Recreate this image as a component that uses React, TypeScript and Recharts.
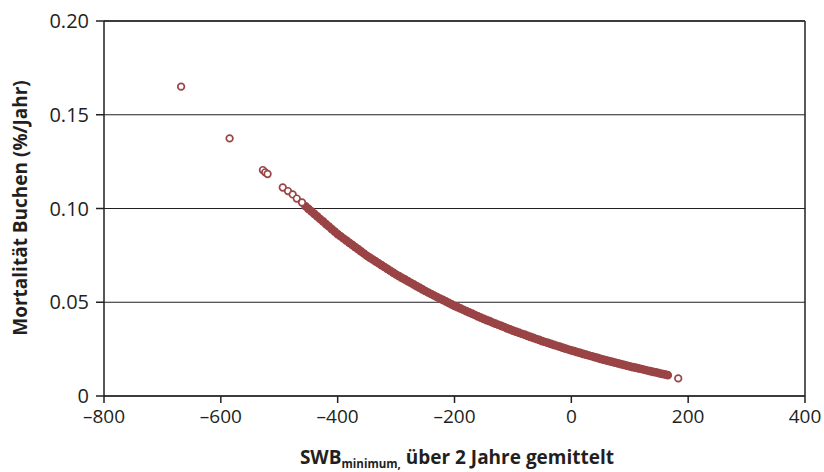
import { ScatterChart, Scatter, XAxis, YAxis, CartesianGrid, ReferenceLine } from 'recharts';

// Buchen-Mortalität vs. SWB minimum (2-year mean).

const xTicks = [-800, -600, -400, -200, 0, 200, 400];
const yTicks = [0, 0.05, 0.1, 0.15, 0.2];

// isolated hollow circles
const sparsePairs: [number, number][] = [
  [-668, 0.165], [-585, 0.1374], [-528, 0.1205], [-524, 0.1193], [-520, 0.1184],
  [-494, 0.1112], [-485, 0.1093], [-477, 0.1075], [-470, 0.1053], [-461, 0.1032],
  [183, 0.0094],
];

// the dense band (overlapping circles read along its centre)
const densePairs: [number, number][] = [
  [-455, 0.1012], [-450, 0.0998], [-445, 0.0985], [-440, 0.0971], [-435, 0.0958], [-430, 0.0944],
  [-425, 0.0931], [-420, 0.0917], [-415, 0.0904], [-410, 0.089], [-405, 0.0877], [-400, 0.0863],
  [-395, 0.0852], [-390, 0.084], [-385, 0.0829], [-380, 0.0817], [-375, 0.0806], [-370, 0.0794],
  [-365, 0.0783], [-360, 0.0771], [-355, 0.076], [-350, 0.0748],
  [-345, 0.0738], [-340, 0.0728], [-335, 0.0718], [-330, 0.0708], [-325, 0.0698], [-320, 0.0688],
  [-315, 0.0678], [-310, 0.0668], [-305, 0.0658], [-300, 0.0648],
  [-295, 0.0639], [-290, 0.063], [-285, 0.0622], [-280, 0.0613], [-275, 0.0604], [-270, 0.0595],
  [-265, 0.0586], [-260, 0.0578], [-255, 0.0569], [-250, 0.056],
  [-245, 0.0552], [-240, 0.0544], [-235, 0.0536], [-230, 0.0528], [-225, 0.052], [-220, 0.0513],
  [-215, 0.0505], [-210, 0.0497], [-205, 0.0489], [-200, 0.0481],
  [-195, 0.0474], [-190, 0.0467], [-185, 0.046], [-180, 0.0453], [-175, 0.0446], [-170, 0.0439],
  [-165, 0.0432], [-160, 0.0425], [-155, 0.0418], [-150, 0.0411],
  [-145, 0.0405], [-140, 0.0399], [-135, 0.0392], [-130, 0.0386], [-125, 0.038], [-120, 0.0374],
  [-115, 0.0368], [-110, 0.0361], [-105, 0.0355], [-100, 0.0349],
  [-95, 0.0343], [-90, 0.0338], [-85, 0.0332], [-80, 0.0327], [-75, 0.0321], [-70, 0.0315],
  [-65, 0.031], [-60, 0.0304], [-55, 0.0299], [-50, 0.0293],
  [-45, 0.0288], [-40, 0.0283], [-35, 0.0278], [-30, 0.0273], [-25, 0.0268], [-20, 0.0263],
  [-15, 0.0258], [-10, 0.0253], [-5, 0.0248], [0, 0.0243],
  [5, 0.0239], [10, 0.0234], [15, 0.023], [20, 0.0225], [25, 0.0221], [30, 0.0216],
  [35, 0.0212], [40, 0.0207], [45, 0.0203], [50, 0.0198],
  [55, 0.0194], [60, 0.019], [65, 0.0186], [70, 0.0182], [75, 0.0178], [80, 0.0174],
  [85, 0.017], [90, 0.0166], [95, 0.0162], [100, 0.0158],
  [105, 0.0154], [110, 0.0151], [115, 0.0147], [120, 0.0144], [125, 0.014], [130, 0.0136],
  [135, 0.0133], [140, 0.0129], [145, 0.0126], [150, 0.0122],
  [155, 0.0118], [160, 0.0115], [165, 0.0111],
];

const sparse = sparsePairs.map(([swb, mort]) => ({ swb, mort }));
const dense = densePairs.map(([swb, mort]) => ({ swb, mort }));

const RED = '#9a4446';
const INK = '#231f20';
const FONT = "'Open Sans', 'Noto Sans', sans-serif";

const fmtX = (v: number) => (v < 0 ? '\u2013' + Math.abs(v) : String(v));
const fmtY = (v: number) => (v === 0 ? '0' : v.toFixed(2));

const HollowDot = (p: any) => (
  <circle cx={p.cx} cy={p.cy} r={3.3} fill="#fff" stroke={RED} strokeWidth={1.7} />
);
const SolidDot = (p: any) => (
  <circle cx={p.cx} cy={p.cy} r={3.7} fill={RED} stroke={RED} strokeWidth={1.3} />
);

const XTitle = () => (
  <text x={457} y={464} textAnchor="middle" fill={INK} fontFamily={FONT} fontWeight={700} fontSize={19}>
    SWB
    <tspan fontSize={11.5} dy={4}>minimum,</tspan>
    <tspan dy={-4}> über 2 Jahre gemittelt</tspan>
  </text>
);

const YTitle = () => (
  <text x={27} y={208} transform="rotate(-90 27 208)" textAnchor="middle" fill={INK}
    fontFamily={FONT} fontWeight={700} fontSize={19}>
    Mortalität Buchen (%/Jahr)
  </text>
);

export default function App() {
  return (
    <div style={{ position: 'absolute', left: 0, top: 0, background: '#fff' }}>
      <ScatterChart width={824} height={472} margin={{ top: 21, right: 19, bottom: 36, left: 0 }}>
        <CartesianGrid horizontal vertical={false} stroke={INK} strokeWidth={1} />
        <XAxis type="number" dataKey="swb" domain={[-800, 400]} ticks={xTicks} tickFormatter={fmtX}
          height={40} tickSize={7} tickMargin={7} axisLine={{ stroke: INK, strokeWidth: 1.5 }}
          tickLine={{ stroke: INK, strokeWidth: 1.5 }}
          tick={{ fill: INK, fontSize: 19, fontFamily: FONT }}
          label={{ content: () => <XTitle /> }} />
        <YAxis type="number" dataKey="mort" domain={[0, 0.2]} ticks={yTicks} tickFormatter={fmtY}
          width={104} tickSize={8} tickMargin={7} axisLine={{ stroke: INK, strokeWidth: 1.5 }}
          tickLine={{ stroke: INK, strokeWidth: 1.5 }}
          tick={{ fill: INK, fontSize: 20, fontFamily: FONT }}
          label={{ content: () => <YTitle /> }} />
        <ReferenceLine y={0.2} stroke={INK} strokeWidth={1.5} />
        <ReferenceLine x={400} stroke={INK} strokeWidth={1.5} />
        <Scatter data={dense} shape={SolidDot} isAnimationActive={false} />
        <Scatter data={sparse} shape={HollowDot} isAnimationActive={false} />
      </ScatterChart>
    </div>
  );
}
